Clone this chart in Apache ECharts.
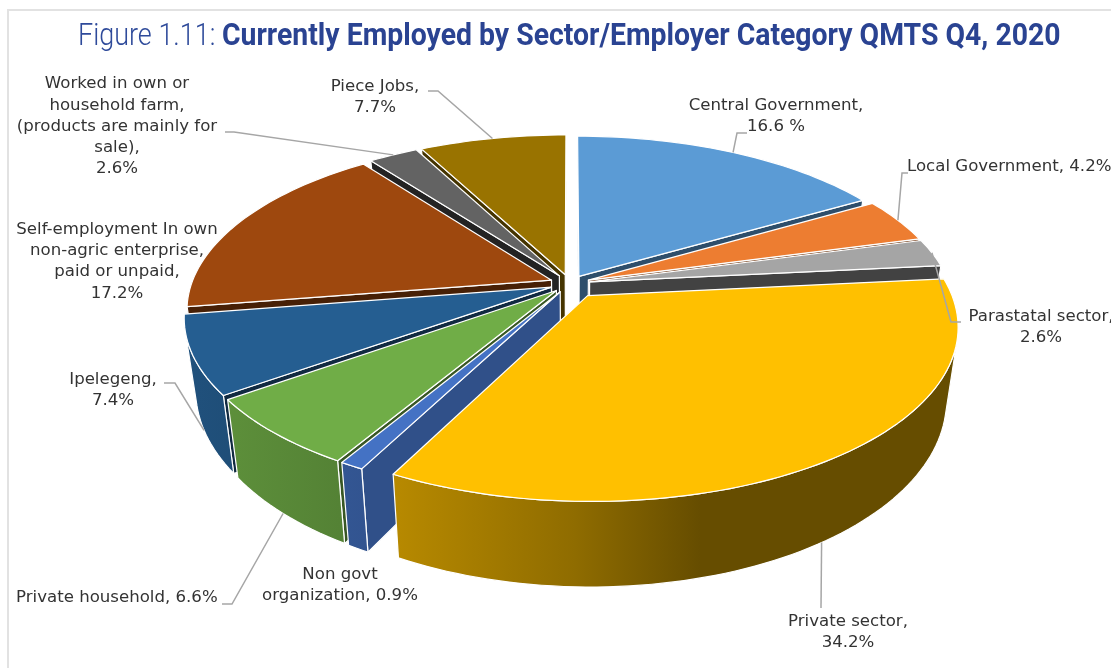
<!DOCTYPE html>
<html><head><meta charset="utf-8">
<style>html,body{margin:0;padding:0;background:#fff;overflow:hidden}#c{width:1111px;height:668px}</style>
<script src="https://cdn.jsdelivr.net/npm/echarts@6/dist/echarts.min.js"></script></head>
<body><div id="c"></div>
<script>
// ---- data ----
var categories = ['Central Government','Local Government','Parastatal sector','Private sector','Non govt organization','Private household','Ipelegeng','Self-employment In own non-agric enterprise, paid or unpaid','Worked in own or household farm, (products are mainly for sale)','Piece Jobs'];
var values = [16.6,4.2,2.6,34.2,0.9,6.6,7.4,17.2,2.6,7.7];
var labelTexts = ['Central Government,\n16.6 %','Local Government, 4.2%','Parastatal sector,\n2.6%','Private sector,\n34.2%','Non govt\norganization, 0.9%','Private household, 6.6%','Ipelegeng,\n7.4%','Self-employment In own\nnon-agric enterprise,\npaid or unpaid,\n17.2%','Worked in own or\nhousehold farm,\n(products are mainly for\nsale),\n2.6%','Piece Jobs,\n7.7%'];
var titleLight = 'Figure 1.11:';
var titleBold = 'Currently Employed by Sector/Employer Category QMTS Q4, 2020';
// ---- styles ----
var colors = ['#5B9BD5','#ED7D31','#A5A5A5','#FFC000','#4472C4','#70AD47','#255E91','#9E480E','#636363','#997300'];
var cutShade = [0.5,0.5,0.4,0.5,0.7,0.5,0.45,0.45,0.35,0.45];
var explodeBy = [18,20,20,31,20,20,20,20,20,20];
var labelFont = 'DejaVu Sans';
var labelSize = 16.6;
var labelLine = 21.3;
// label layout: anchor x, centre y, align
var labelPos = [[776,116.5,'center'],[907,167,'left'],[1041,327,'center'],[848,632,'center'],[340,585,'center'],[16,597.5,'left'],[113,390,'center'],[117,261.5,'center'],[117,126.5,'center'],[375,97.5,'center']];
// leader lines: start depth on the wall (0 = rim of top face, 1 = bottom), then elbow points; null = none
var leaders = [
 {z:0,pts:[[737,133],[747,133]]},
 {z:0,pts:[[902,173],[908,173]]},
 {z:0,pts:[[951,322],[961,322]]},
 {z:1,pts:[[821,608]]},
 null,
 {z:1,pts:[[232,604],[222,604]]},
 {z:1,pts:[[175,383],[164,383]]},
 null,
 {z:0,pts:[[234,132],[225,132]]},
 {z:0,pts:[[438,91],[428,91]]}
];
// ---- pie geometry ----
var geo = {cx:570,cy:283.6,R:360,k:0.462,p:0.17,h:70,shrink:0.03};
function project(x,y,z){
  var s = 1/(1-geo.p*y/geo.R);
  var s2 = s*(1-geo.shrink*z);
  return [geo.cx+x*s2, geo.cy+geo.k*y*s+geo.h*z*s];
}
var total = values.reduce(function(a,b){return a+b;},0);
var slices = [];
(function(){
  var acc = 0;
  values.forEach(function(v,i){
    var a0 = acc/total*2*Math.PI; acc += v; var a1 = acc/total*2*Math.PI; var mid=(a0+a1)/2, e=explodeBy[i];
    slices.push({i:i,a0:a0,a1:a1,mid:mid,ox:e*Math.sin(mid),oy:-e*Math.cos(mid)});
  });
})();
function rim(sl,a,z){ return project(sl.ox+geo.R*Math.sin(a), sl.oy-geo.R*Math.cos(a), z); }
function apex(sl,z){ return project(sl.ox,sl.oy,z); }
function arcAngles(sl){
  var n=Math.max(4,Math.ceil((sl.a1-sl.a0)/(Math.PI/120))), out=[];
  for(var j=0;j<=n;j++) out.push(sl.a0+(sl.a1-sl.a0)*j/n);
  return out;
}
function area(poly){ var s=0; for(var i=0;i<poly.length;i++){var a=poly[i],b=poly[(i+1)%poly.length]; s+=a[0]*b[1]-b[0]*a[1];} return s/2; }
function rgb(hex,f){ var n=parseInt(hex.slice(1),16); return 'rgb('+Math.round((n>>16&255)*f)+','+Math.round((n>>8&255)*f)+','+Math.round((n&255)*f)+')'; }
// horizontal shading of the outer walls
var shadeStops = [[150,0.88],[340,0.75],[391,0.72],[575,0.56],[700,0.40],[960,0.40]];
function wallFill(hex){
  var x0=shadeStops[0][0], x1=shadeStops[shadeStops.length-1][0];
  return {type:'linear',global:true,x:x0,y:0,x2:x1,y2:0,colorStops:shadeStops.map(function(s){return {offset:(s[0]-x0)/(x1-x0),color:rgb(hex,s[1])};})};
}
var edge = {stroke:'#fff',lineWidth:1.2,lineJoin:'round'};
function polyEl(points,fill,st){ return {type:'polygon',shape:{points:points},style:Object.assign({fill:fill},st||edge)}; }

function renderWalls(params){
  var sl = slices[order[params.dataIndex]], hex = colors[sl.i], kids=[];
  var end = [apex(sl,0),rim(sl,sl.a1,0),rim(sl,sl.a1,1),apex(sl,1)];
  if(area(end)>0) kids.push(polyEl(end,rgb(hex,cutShade[sl.i])));
  var start = [rim(sl,sl.a0,0),apex(sl,0),apex(sl,1),rim(sl,sl.a0,1)];
  if(area(start)>0) kids.push(polyEl(start,rgb(hex,cutShade[sl.i])));
  var ang = arcAngles(sl), tops=[], bots=[];
  for(var j=0;j<ang.length-1;j++){
    var q=[rim(sl,ang[j],0),rim(sl,ang[j+1],0),rim(sl,ang[j+1],1),rim(sl,ang[j],1)];
    if(area(q)<0){ if(!tops.length){tops.push(q[0]);bots.push(q[3]);} tops.push(q[1]);bots.push(q[2]); }
  }
  if(tops.length) kids.push(polyEl(tops.concat(bots.reverse()),wallFill(hex)));
  return {type:'group',children:kids};
}
function renderTop(params){
  var sl = slices[params.dataIndex];
  var pts=[apex(sl,0)].concat(arcAngles(sl).map(function(a){return rim(sl,a,0);}));
  return polyEl(pts,colors[sl.i]);
}
function renderNotes(params){
  var i=params.dataIndex, sl=slices[i], kids=[], L=leaders[i], P=labelPos[i];
  if(L){
    var pts=[rim(sl,sl.mid,L.z)].concat(L.pts);
    kids.push({type:'polyline',shape:{points:pts},style:{stroke:'#a6a6a6',lineWidth:1.5,fill:null}});
  }
  kids.push({type:'text',style:{text:labelTexts[i],x:P[0],y:P[1],align:P[2],verticalAlign:'middle',fill:'#333333',font:labelSize+'px '+labelFont,lineHeight:labelLine}});
  return {type:'group',children:kids};
}
var order = slices.slice().sort(function(a,b){return a.oy-b.oy;}).map(function(s){return s.i;});
var pieData = categories.map(function(c,i){return {name:c,value:values[i]};});
var wallData = order.map(function(i){return pieData[i];});

var chart = echarts.init(document.getElementById('c'),null,{renderer:'canvas'});
chart.setOption({
  animation:false,
  backgroundColor:'#fff',
  tooltip:{show:false},
  graphic:{elements:[
    {type:'polyline',shape:{points:[[8,668],[8,10],[1111,10]]},style:{stroke:'#e2e2e2',lineWidth:2,fill:null},silent:true},
    {type:'text',x:78,y:53,scaleX:0.843,silent:true,style:{text:titleLight,font:'300 32px Roboto',fill:'#2E4A9A',verticalAlign:'bottom'}},
    {type:'text',x:222,y:53,scaleX:0.887,silent:true,style:{text:titleBold,font:'bold 32px Roboto',fill:'#2A4392',verticalAlign:'bottom'}}
  ]},
  series:[
    {type:'custom',coordinateSystem:'none',name:'walls',silent:true,renderItem:renderWalls,data:wallData,z:2,clip:false},
    {type:'custom',coordinateSystem:'none',name:'tops',silent:true,renderItem:renderTop,data:pieData,z:3,clip:false},
    {type:'custom',coordinateSystem:'none',name:'notes',silent:true,renderItem:renderNotes,data:pieData,z:4,clip:false}
  ]
});
</script></body></html>
